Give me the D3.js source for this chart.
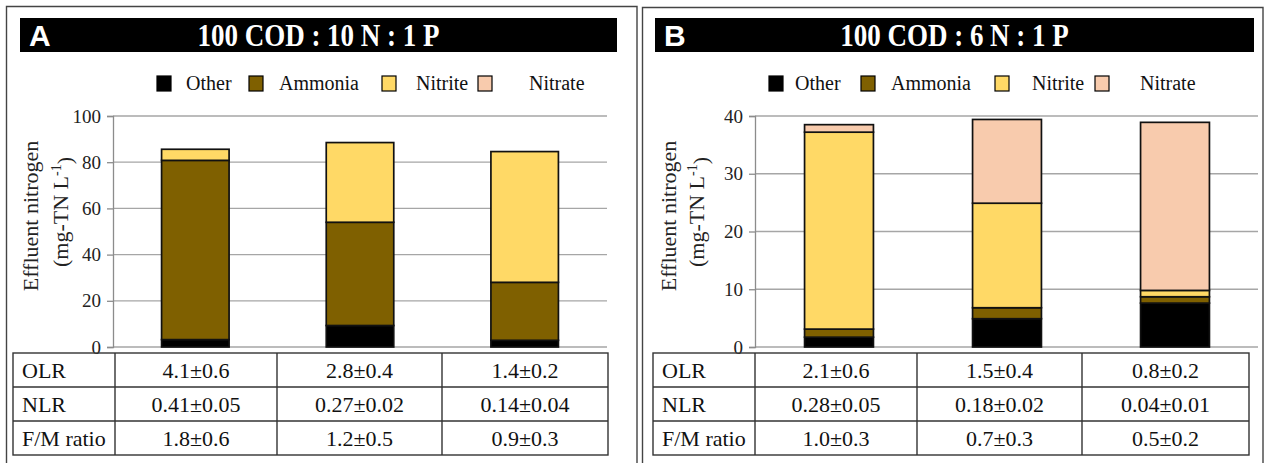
<!DOCTYPE html>
<html>
<head>
<meta charset="utf-8">
<script src="https://cdn.jsdelivr.net/npm/d3@7"></script>
<style>
  body { margin: 0; background: #fff; }
  svg { display: block; font-family: "Liberation Serif", "Times New Roman", serif; }
  svg text { font-family: "Liberation Serif", "Times New Roman", serif; }
</style>
</head>
<body>
<svg id="chart" width="1268" height="463"></svg>
<script>
// shared
const seriesKeys = ["Other", "Ammonia", "Nitrite", "Nitrate"];
const seriesColors = ["#000000", "#7f6000", "#ffd966", "#f8cbad"];
const tableRowLabels = ["OLR", "NLR", "F/M ratio"];
const SERIF = "'Liberation Serif', 'Times New Roman', serif";

// panel A : 100 COD : 10 N : 1 P
const titleA = "100 COD : 10 N : 1 P";
const runsA = ["A1", "A2", "A3"];
const otherA = [3.2, 9.3, 2.9];
const ammoniaA = [77.6, 44.7, 25.1];
const nitriteA = [4.8, 34.5, 56.6];
const nitrateA = [0, 0, 0];
const ticksA = [0, 20, 40, 60, 80, 100];
const olrA = ["4.1±0.6", "2.8±0.4", "1.4±0.2"];
const nlrA = ["0.41±0.05", "0.27±0.02", "0.14±0.04"];
const fmA = ["1.8±0.6", "1.2±0.5", "0.9±0.3"];

// panel B : 100 COD : 6 N : 1 P
const titleB = "100 COD : 6 N : 1 P";
const runsB = ["B1", "B2", "B3"];
const otherB = [1.7, 4.9, 7.6];
const ammoniaB = [1.4, 1.9, 1.1];
const nitriteB = [34.1, 18.1, 1.1];
const nitrateB = [1.3, 14.5, 29.1];
const ticksB = [0, 10, 20, 30, 40];
const olrB = ["2.1±0.6", "1.5±0.4", "0.8±0.2"];
const nlrB = ["0.28±0.05", "0.18±0.02", "0.04±0.01"];
const fmB = ["1.0±0.3", "0.7±0.3", "0.5±0.2"];

const svg = d3.select("#chart");
const color = d3.scaleOrdinal().domain(seriesKeys).range(seriesColors);

function drawPanel(p) {
  const g = svg.append("g");

  // frame (open at the bottom)
  g.append("path")
    .attr("d", `M${p.frame[0]},470 V${p.frame[1]} H${p.frame[2]} V470`)
    .attr("fill", "none").attr("stroke", "#444").attr("stroke-width", 1.4);

  // header bar
  g.append("rect")
    .attr("x", p.header[0]).attr("y", 18)
    .attr("width", p.header[1] - p.header[0]).attr("height", 34)
    .attr("fill", "#000");
  g.append("text")
    .attr("x", p.header[0] + 9).attr("y", 46)
    .attr("fill", "#fff")
    .style("font-family", "'Liberation Sans', Arial, sans-serif")
    .style("font-weight", 700).style("font-size", "30px")
    .text(p.letter);
  g.append("text")
    .attr("transform", `translate(${(p.header[0] + p.header[1]) / 2},46) scale(1,1.15)`)
    .attr("text-anchor", "middle").attr("fill", "#fff")
    .style("font-family", SERIF)
    .style("font-weight", 700).style("font-size", "27px")
    .text(p.title);

  // legend
  seriesKeys.forEach((k, i) => {
    g.append("rect")
      .attr("x", p.legendSq[i]).attr("y", 76)
      .attr("width", 14).attr("height", 15)
      .attr("fill", color(k)).attr("stroke", "#000").attr("stroke-width", 1.2);
    g.append("text")
      .attr("x", p.legendTx[i]).attr("y", 90)
      .style("font-family", SERIF)
      .style("font-size", "20px").attr("fill", "#111")
      .text(k);
  });

  // scales
  const x = d3.scaleBand().domain(p.runs).range(p.xRange)
    .paddingInner(0.59).paddingOuter(0.295);
  const y = d3.scaleLinear().domain([0, d3.max(p.ticks)]).range([347, 116]);

  // gridlines
  g.append("g").selectAll("line")
    .data(p.ticks)
    .join("line")
    .attr("x1", p.xRange[0]).attr("x2", p.gridEnd)
    .attr("y1", d => y(d)).attr("y2", d => y(d))
    .attr("stroke", "#a6a6a6").attr("stroke-width", 1.3);

  // y axis
  const yAxis = g.append("g")
    .attr("transform", `translate(${p.xRange[0]},0)`)
    .call(d3.axisLeft(y).tickValues(p.ticks).tickSize(6).tickPadding(6))
    .attr("font-family", SERIF).attr("font-size", 19);
  yAxis.select(".domain").attr("stroke", "#8c8c8c").attr("stroke-width", 1.3);
  yAxis.selectAll(".tick line").attr("stroke", "#8c8c8c").attr("stroke-width", 1.3);
  yAxis.selectAll(".tick text")
    .attr("fill", "#222")
    .style("font-family", SERIF)
    .style("font-size", "19px");

  // y title
  g.append("text")
    .attr("transform", `translate(${p.titleX[0]},216) rotate(-90)`)
    .attr("text-anchor", "middle").attr("dy", "0.35em")
    .style("font-family", SERIF)
    .style("font-size", "22px").attr("fill", "#222")
    .text("Effluent nitrogen");
  const t2 = g.append("text")
    .attr("transform", `translate(${p.titleX[1]},212) rotate(-90)`)
    .attr("text-anchor", "middle").attr("dy", "0.35em")
    .style("font-family", SERIF)
    .style("font-size", "22px").attr("fill", "#222");
  t2.append("tspan").text("(mg-TN L");
  t2.append("tspan").attr("dy", "-0.5em").style("font-size", "14px").text("-1");
  t2.append("tspan").attr("dy", "0.5em").text(")");

  // stacked bars
  const rows = p.runs.map((r, i) => ({
    run: r,
    Other: p.other[i], Ammonia: p.ammonia[i], Nitrite: p.nitrite[i], Nitrate: p.nitrate[i]
  }));
  const stacked = d3.stack().keys(seriesKeys)(rows);
  g.append("g").selectAll("g")
    .data(stacked)
    .join("g")
    .attr("fill", d => color(d.key))
    .selectAll("rect")
    .data(d => d.filter(s => s[1] - s[0] > 0))
    .join("rect")
    .attr("x", d => x(d.data.run))
    .attr("width", x.bandwidth())
    .attr("y", d => y(d[1]))
    .attr("height", d => y(d[0]) - y(d[1]))
    .attr("stroke", "#111").attr("stroke-width", 1.7);

  // table
  const cols = p.tableCols;
  const rowTop = 353, rowH = 34;
  const tbl = g.append("g");
  const cells = [p.olr, p.nlr, p.fm];
  tbl.append("rect")
    .attr("x", cols[0]).attr("y", rowTop)
    .attr("width", cols[cols.length - 1] - cols[0]).attr("height", rowH * 3)
    .attr("fill", "none").attr("stroke", "#333").attr("stroke-width", 1.4);
  cols.slice(1, -1).forEach(cx => {
    tbl.append("line").attr("x1", cx).attr("x2", cx)
      .attr("y1", rowTop).attr("y2", rowTop + rowH * 3)
      .attr("stroke", "#333").attr("stroke-width", 1.4);
  });
  [1, 2].forEach(r => {
    tbl.append("line").attr("x1", cols[0]).attr("x2", cols[cols.length - 1])
      .attr("y1", rowTop + r * rowH).attr("y2", rowTop + r * rowH)
      .attr("stroke", "#333").attr("stroke-width", 1.4);
  });
  tableRowLabels.forEach((lab, r) => {
    const cy = rowTop + r * rowH + rowH / 2 + 7.5;
    tbl.append("text").attr("x", cols[0] + 9).attr("y", cy)
      .style("font-family", SERIF)
      .style("font-size", "22px").attr("fill", "#111").text(lab);
    cells[r].forEach((v, c) => {
      tbl.append("text")
        .attr("x", (cols[c + 1] + cols[c + 2]) / 2).attr("y", cy)
        .attr("text-anchor", "middle")
        .style("font-family", SERIF)
        .style("font-size", "22px").attr("fill", "#111").text(v);
    });
  });
}

drawPanel({
  letter: "A", title: titleA, runs: runsA,
  other: otherA, ammonia: ammoniaA, nitrite: nitriteA, nitrate: nitrateA,
  ticks: ticksA, olr: olrA, nlr: nlrA, fm: fmA,
  frame: [6.5, 6.5, 637], header: [20, 617],
  legendSq: [157, 249, 382, 478], legendTx: [186, 279, 416, 529],
  xRange: [113, 607], gridEnd: 607,
  titleX: [30, 60], tableCols: [13, 115, 277, 442, 608]
});

drawPanel({
  letter: "B", title: titleB, runs: runsB,
  other: otherB, ammonia: ammoniaB, nitrite: nitriteB, nitrate: nitrateB,
  ticks: ticksB, olr: olrB, nlr: nlrB, fm: fmB,
  frame: [642.5, 7.5, 1263], header: [655, 1254],
  legendSq: [769, 861, 995, 1095], legendTx: [795, 891, 1032, 1140],
  xRange: [755, 1259], gridEnd: 1258,
  titleX: [668, 696], tableCols: [653, 755, 917, 1082, 1249]
});
</script>
</body>
</html>
